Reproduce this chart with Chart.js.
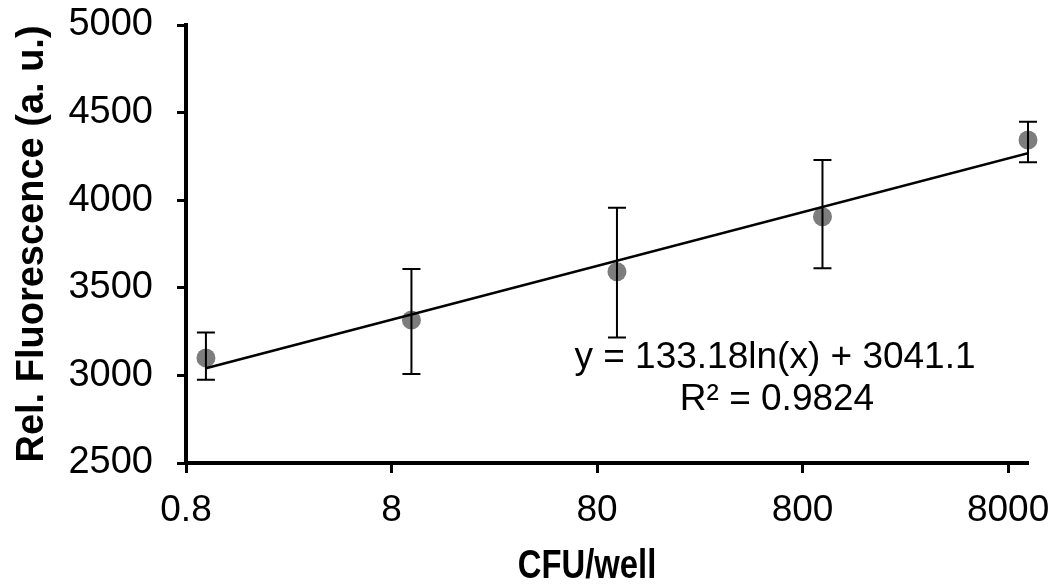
<!DOCTYPE html>
<html>
<head>
<meta charset="utf-8">
<script src="https://cdn.jsdelivr.net/npm/chart.js@4"></script>
<style>
  html, body { margin: 0; padding: 0; background: #fff; }
</style>
</head>
<body>
<canvas id="scatter_cfu_well" width="1048" height="586"></canvas>
<script>
// values
const cfuPerWell = [1, 10, 100, 1000, 10000];
const fluorMean = [3100, 3316, 3592, 3906, 4344];
const fluorUpper = [3245, 3607, 3957, 4229, 4448];
const fluorLower = [2975, 3008, 3217, 3611, 4216];
const xTickValues = [0.8, 8, 80, 800, 8000];
const yTickValues = [2500, 3000, 3500, 4000, 4500, 5000];
// trendline end points: y = 133.18ln(x) + 3041.1 at x = 1 and x = 10000
const trendX = [1, 10000];
const trendY = [3041.1, 4267.7];
const fitLabels = ["y = 133.18ln(x) + 3041.1", "R\u00b2 = 0.9824"];
const xTitle = "CFU/well";

const errorBars = {
    id: "errorBars",
    afterDatasetsDraw(chart) {
        const ctx = chart.ctx;
        const x = chart.scales.x;
        const y = chart.scales.y;
        ctx.save();
        ctx.strokeStyle = "#000";
        ctx.lineWidth = 2;
        cfuPerWell.forEach((v, i) => {
            const px = x.getPixelForValue(v);
            const top = y.getPixelForValue(fluorUpper[i]);
            const bot = y.getPixelForValue(fluorLower[i]);
            ctx.beginPath();
            ctx.moveTo(px, top); ctx.lineTo(px, bot);
            ctx.moveTo(px - 9, top); ctx.lineTo(px + 9, top);
            ctx.moveTo(px - 9, bot); ctx.lineTo(px + 9, bot);
            ctx.stroke();
        });
        // fit equation
        const area = chart.chartArea;
        ctx.fillStyle = "#000";
        ctx.font = "37px 'Liberation Sans', Arial, sans-serif";
        ctx.textAlign = "center";
        ctx.textBaseline = "middle";
        ctx.fillText(fitLabels[0], area.left + 589, area.top + 333);
        ctx.fillText(fitLabels[1], area.left + 591, area.top + 375);
        // condensed x axis title
        ctx.save();
        ctx.translate((area.left + area.right) / 2 - 20, 567);
        ctx.scale(0.8, 1);
        ctx.font = "bold 41px 'Liberation Sans', Arial, sans-serif";
        ctx.fillText(xTitle, 0, 0);
        ctx.restore();
        ctx.restore();
    }
};

const data_cfu = {
    datasets: [
        {
            type: "line",
            label: "trend",
            data: trendX.map((v, i) => ({ x: v, y: trendY[i] })),
            borderColor: "#000",
            borderWidth: 2.5,
            pointRadius: 0,
            fill: false
        },
        {
            type: "scatter",
            label: "fluorescence",
            data: cfuPerWell.map((v, i) => ({ x: v, y: fluorMean[i] })),
            backgroundColor: "rgb(125,125,125)",
            borderWidth: 0,
            pointRadius: 9.5,
            clip: false
        }
    ]
};

const config_cfu = {
    type: "scatter",
    data: data_cfu,
    options: {
        responsive: false,
        animation: false,
        layout: { padding: { top: 25, right: 20, bottom: 0, left: 0 } },
        plugins: {
            legend: { display: false },
            tooltip: { enabled: false }
        },
        scales: {
            x: {
                type: "logarithmic",
                min: 0.8,
                max: 10000,
                afterBuildTicks: s => { s.ticks = xTickValues.map(v => ({ value: v })); },
                afterFit: s => { s.height = 123; s.paddingLeft = 0; s.paddingRight = 0; },
                ticks: {
                    color: "#000",
                    padding: 16,
                    autoSkip: false,
                    maxRotation: 0,
                    font: { family: "'Liberation Sans', Arial", size: 37 },
                    callback: v => String(v)
                },
                grid: { display: true, drawOnChartArea: false, drawTicks: true, tickLength: 10, tickWidth: 3, tickColor: "#000" },
                border: { display: true, color: "#000", width: 4 },
                title: { display: false }
            },
            y: {
                min: 2500,
                max: 5000,
                afterBuildTicks: s => { s.ticks = yTickValues.map(v => ({ value: v })); },
                afterFit: s => { s.width = 186; s.paddingTop = 0; s.paddingBottom = 0; },
                ticks: {
                    color: "#000",
                    padding: 24,
                    font: { family: "'Liberation Sans', Arial", size: 38 },
                    callback: v => String(v)
                },
                grid: { display: true, drawOnChartArea: false, drawTicks: true, tickLength: 9, tickWidth: 3, tickColor: "#000" },
                border: { display: true, color: "#000", width: 4 },
                title: {
                    display: true,
                    text: "Rel. Fluorescence (a. u.)",
                    color: "#000",
                    padding: { top: 10, bottom: 0 },
                    font: { family: "'Liberation Sans', Arial", size: 38, weight: "bold" }
                }
            }
        }
    },
    plugins: [errorBars]
};

const ctx_cfu = document.getElementById("scatter_cfu_well").getContext("2d");
const chart_cfu = new Chart(ctx_cfu, config_cfu);
</script>
</body>
</html>
